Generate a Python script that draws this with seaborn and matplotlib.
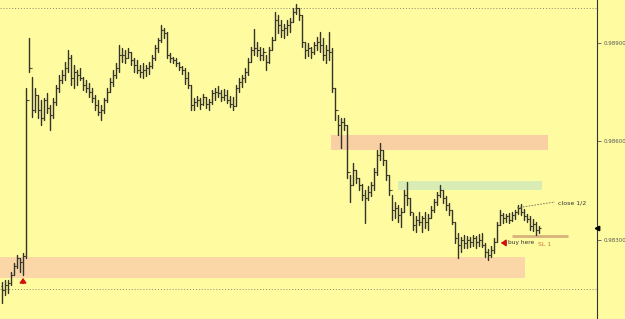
import numpy as np
import pandas as pd
import matplotlib
matplotlib.use("Agg")
import matplotlib.pyplot as plt
import seaborn as sns

# ---- data (prices) ----
high = [0.98171, 0.98177, 0.98177, 0.98202, 0.98229, 0.98253, 0.98244, 0.98259, 0.98763, 0.98915,
        0.98796, 0.98763, 0.98741, 0.98726, 0.98732, 0.98747, 0.98711, 0.98732, 0.98772, 0.98802,
        0.98818, 0.98842, 0.98879, 0.98863, 0.98833, 0.98818, 0.98824, 0.98796, 0.98787, 0.98778,
        0.98763, 0.98741, 0.98726, 0.98711, 0.98732, 0.98763, 0.98793, 0.98818, 0.98839, 0.98894,
        0.98885, 0.98879, 0.98885, 0.98873, 0.98854, 0.98848, 0.98833, 0.98839, 0.98833, 0.98842,
        0.98863, 0.98894, 0.98915, 0.98955, 0.98946, 0.98934, 0.98869, 0.98857, 0.98854, 0.98842,
        0.98830, 0.98824, 0.98812, 0.98772, 0.98732, 0.98738, 0.98732, 0.98744, 0.98735, 0.98729,
        0.98757, 0.98763, 0.98769, 0.98757, 0.98760, 0.98757, 0.98738, 0.98735, 0.98772, 0.98793,
        0.98802, 0.98824, 0.98854, 0.98888, 0.98943, 0.98903, 0.98888, 0.98885, 0.98863, 0.98888,
        0.98918, 0.98995, 0.98985, 0.98970, 0.98958, 0.98970, 0.98976, 0.99007, 0.99019, 0.99007,
        0.98985, 0.98903, 0.98900, 0.98888, 0.98903, 0.98918, 0.98934, 0.98915, 0.98894, 0.98934,
        0.98885, 0.98763, 0.98680, 0.98671, 0.98671, 0.98650, 0.98497, 0.98534, 0.98513, 0.98488,
        0.98470, 0.98452, 0.98464, 0.98476, 0.98519, 0.98574, 0.98595, 0.98574, 0.98543, 0.98497,
        0.98436, 0.98415, 0.98406, 0.98397, 0.98452, 0.98476, 0.98427, 0.98381, 0.98372, 0.98385,
        0.98372, 0.98385, 0.98378, 0.98403, 0.98424, 0.98445, 0.98467, 0.98452, 0.98433, 0.98412,
        0.98391, 0.98354, 0.98320, 0.98308, 0.98314, 0.98311, 0.98308, 0.98314, 0.98311, 0.98317,
        0.98320, 0.98290, 0.98272, 0.98281, 0.98305, 0.98354, 0.98391, 0.98381, 0.98378, 0.98381,
        0.98385, 0.98391, 0.98406, 0.98409, 0.98394, 0.98378, 0.98372, 0.98363, 0.98354, 0.98342]

low = [0.98107, 0.98131, 0.98137, 0.98162, 0.98192, 0.98214, 0.98202, 0.98192, 0.98244, 0.98812,
       0.98674, 0.98690, 0.98671, 0.98650, 0.98665, 0.98686, 0.98635, 0.98671, 0.98711, 0.98751,
       0.98778, 0.98787, 0.98812, 0.98772, 0.98763, 0.98772, 0.98787, 0.98757, 0.98751, 0.98735,
       0.98720, 0.98696, 0.98680, 0.98665, 0.98686, 0.98720, 0.98751, 0.98769, 0.98793, 0.98812,
       0.98842, 0.98839, 0.98854, 0.98833, 0.98812, 0.98808, 0.98796, 0.98793, 0.98799, 0.98805,
       0.98824, 0.98848, 0.98873, 0.98903, 0.98915, 0.98854, 0.98842, 0.98839, 0.98830, 0.98818,
       0.98805, 0.98775, 0.98763, 0.98696, 0.98696, 0.98708, 0.98699, 0.98711, 0.98702, 0.98696,
       0.98714, 0.98726, 0.98735, 0.98723, 0.98726, 0.98717, 0.98705, 0.98696, 0.98708, 0.98751,
       0.98766, 0.98781, 0.98802, 0.98842, 0.98863, 0.98860, 0.98848, 0.98848, 0.98818, 0.98839,
       0.98879, 0.98909, 0.98931, 0.98918, 0.98915, 0.98924, 0.98934, 0.98964, 0.98988, 0.98970,
       0.98888, 0.98854, 0.98860, 0.98854, 0.98866, 0.98879, 0.98873, 0.98848, 0.98839, 0.98848,
       0.98751, 0.98665, 0.98619, 0.98580, 0.98635, 0.98488, 0.98415, 0.98467, 0.98473, 0.98452,
       0.98421, 0.98351, 0.98421, 0.98433, 0.98452, 0.98497, 0.98543, 0.98528, 0.98482, 0.98436,
       0.98360, 0.98366, 0.98354, 0.98339, 0.98385, 0.98406, 0.98375, 0.98330, 0.98324, 0.98345,
       0.98324, 0.98336, 0.98330, 0.98366, 0.98385, 0.98406, 0.98430, 0.98412, 0.98391, 0.98375,
       0.98348, 0.98290, 0.98244, 0.98263, 0.98275, 0.98275, 0.98278, 0.98281, 0.98275, 0.98281,
       0.98278, 0.98247, 0.98238, 0.98247, 0.98259, 0.98293, 0.98345, 0.98351, 0.98354, 0.98351,
       0.98357, 0.98363, 0.98378, 0.98375, 0.98360, 0.98354, 0.98330, 0.98327, 0.98314, 0.98320]

close = [0.98147, 0.98162, 0.98168, 0.98192, 0.98220, 0.98244, 0.98232, 0.98250, 0.98726, 0.98824,
         0.98696, 0.98741, 0.98696, 0.98671, 0.98726, 0.98702, 0.98680, 0.98720, 0.98763, 0.98787,
         0.98802, 0.98824, 0.98854, 0.98793, 0.98812, 0.98802, 0.98793, 0.98772, 0.98763, 0.98751,
         0.98732, 0.98711, 0.98690, 0.98696, 0.98726, 0.98751, 0.98781, 0.98802, 0.98824, 0.98863,
         0.98863, 0.98854, 0.98873, 0.98848, 0.98833, 0.98818, 0.98812, 0.98818, 0.98824, 0.98830,
         0.98854, 0.98885, 0.98909, 0.98940, 0.98931, 0.98863, 0.98854, 0.98848, 0.98839, 0.98827,
         0.98818, 0.98793, 0.98772, 0.98711, 0.98720, 0.98726, 0.98714, 0.98735, 0.98714, 0.98720,
         0.98748, 0.98751, 0.98748, 0.98735, 0.98741, 0.98726, 0.98714, 0.98708, 0.98763, 0.98781,
         0.98793, 0.98812, 0.98842, 0.98879, 0.98885, 0.98879, 0.98863, 0.98873, 0.98842, 0.98879,
         0.98909, 0.98970, 0.98955, 0.98940, 0.98946, 0.98955, 0.98964, 0.98995, 0.99007, 0.98985,
         0.98903, 0.98879, 0.98885, 0.98873, 0.98894, 0.98903, 0.98894, 0.98863, 0.98879, 0.98873,
         0.98763, 0.98696, 0.98650, 0.98659, 0.98650, 0.98507, 0.98467, 0.98513, 0.98488, 0.98467,
         0.98436, 0.98427, 0.98446, 0.98467, 0.98507, 0.98558, 0.98574, 0.98543, 0.98497, 0.98452,
         0.98391, 0.98397, 0.98375, 0.98385, 0.98436, 0.98427, 0.98385, 0.98345, 0.98360, 0.98354,
         0.98366, 0.98354, 0.98366, 0.98391, 0.98415, 0.98436, 0.98452, 0.98427, 0.98406, 0.98391,
         0.98354, 0.98305, 0.98284, 0.98299, 0.98290, 0.98299, 0.98293, 0.98305, 0.98293, 0.98299,
         0.98284, 0.98263, 0.98253, 0.98269, 0.98293, 0.98345, 0.98375, 0.98366, 0.98372, 0.98360,
         0.98375, 0.98385, 0.98397, 0.98385, 0.98372, 0.98363, 0.98342, 0.98348, 0.98330, 0.98336]

first_open = 0.98160
tick_values = [0.98300, 0.98600, 0.98900]
tick_labels = ["0.98300", "0.98600", "0.98900"]

# zones and annotations (bar index ranges, price levels)
zone_supply = (109.7, 182.0, 0.98574, 0.98619)
zone_green = (132.0, 180.0, 0.98452, 0.98479)
zone_demand = (-0.7, 174.3, 0.98183, 0.98247)
level_top = 0.99007
level_bottom = 0.98150
sl_level = 0.98311
last_price = 0.98336

# ---- figure ----
sns.set_style("white")
BG = "#fffba0"
BAR = "#34342a"

fig = plt.figure(figsize=(6.25, 3.19), dpi=100, facecolor=BG)
ax = fig.add_axes([0, 0, 597 / 625, 1])
ax.set_facecolor(BG)

n = len(high)
idx = np.arange(n)
opens = [first_open] + close[:-1]

df = pd.DataFrame({
    "bar": np.concatenate([idx, idx]),
    "x": np.concatenate([idx, idx]).astype(float),
    "price": np.concatenate([low, high]),
})

# zones (behind bars)
for (x0, x1, y0, y1), col in [(zone_supply, "#f9cfa4"), (zone_green, "#d9ecb4"), (zone_demand, "#fbd6a6")]:
    ax.fill_between([x0, x1], y0, y1, color=col, lw=0, zorder=1)

ax.axhline(level_top, color="#8a8a70", lw=0.7, ls=(0, (1, 2)), zorder=1)
ax.axhline(level_bottom, color="#8a8a70", lw=0.7, ls=(0, (1, 2)), zorder=1)

sns.lineplot(data=df, x="x", y="price", units="bar", estimator=None, sort=False,
             color=BAR, lw=1.0, ax=ax, legend=False, zorder=3)
ax.hlines(opens, idx - 0.5, idx, color=BAR, lw=0.8, zorder=3)
ax.hlines(close, idx, idx + 0.5, color=BAR, lw=0.8, zorder=3)

# annotations
ax.plot([170.0, 188.7], [sl_level, sl_level], color="#d8b27c", lw=2, zorder=2, solid_capstyle="butt")
ax.plot([171.7, 184.3], [0.98397, 0.98415], color="#6a6a5a", lw=0.6, ls=(0, (2, 1.5)), zorder=4)
ax.text(185.3, 0.98413, "close 1/2", fontsize=4.5, color="#333333", va="center", ha="left")
ax.annotate("", xy=(165.4, 0.98290), xytext=(168.2, 0.98290),
            arrowprops=dict(arrowstyle="-|>,head_width=0.18,head_length=0.25", color="#d01010", lw=1.3))
ax.text(168.7, 0.98290, "buy here", fontsize=4.2, color="#333333", va="center", ha="left")
ax.text(178.7, 0.98284, "SL 1", fontsize=4.5, color="#c8783a", va="center", ha="left")
ax.annotate("", xy=(7.0, 0.98192), xytext=(7.0, 0.98159),
            arrowprops=dict(arrowstyle="-|>,head_width=0.18,head_length=0.25", color="#d01010", lw=1.3))

ax.set_xlim(-0.67, 198.33)
ax.set_ylim(0.98058, 0.99031)
ax.set_xlabel("")
ax.set_ylabel("")
ax.set_xticks([])
ax.yaxis.tick_right()
ax.set_yticks(tick_values)
ax.set_yticklabels(tick_labels)
ax.tick_params(axis="y", direction="out", length=3, width=0.6, colors="#555555",
               labelsize=4.0, pad=1.5, right=True, left=False)
for s in ["top", "left", "bottom"]:
    ax.spines[s].set_visible(False)
ax.spines["right"].set_color("#333333")
ax.spines["right"].set_linewidth(0.8)

ax.plot([198.33], [last_price], marker="<", ms=3.2, color="black", clip_on=False, zorder=5)

fig.savefig("out.png", dpi=100, facecolor=BG)
